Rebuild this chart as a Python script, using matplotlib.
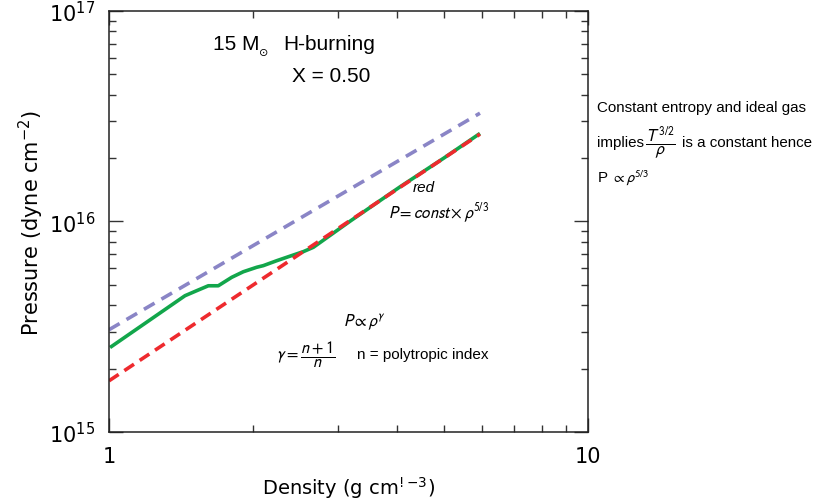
import numpy as np
import matplotlib
matplotlib.use("Agg")
import matplotlib.pyplot as plt
from matplotlib.ticker import LogLocator, NullFormatter, FixedLocator, FixedFormatter

# data (density in g cm^-3, pressure in dyne cm^-2)
rho_model = [1.005, 1.441, 1.524, 1.612, 1.691, 1.804, 1.907, 2.034, 2.10,
             2.239, 2.426, 2.545, 2.671, 3.2, 4.05, 5.0, 5.95]
p_model = [2.52e15, 4.44e15, 4.69e15, 4.95e15, 4.95e15, 5.43e15, 5.77e15,
           6.06e15, 6.17e15, 6.51e15, 6.93e15, 7.19e15, 7.54e15, 1.01e16,
           1.46e16, 2.0e16, 2.62e16]

rho_red = [1.0, 5.95]
p_red = [1.75e15, 2.60e16]

rho_blue = [1.0, 5.95]
p_blue = [3.06e15, 3.27e16]

x_ticks = [1, 10]
x_ticklabels = ["1", "10"]

c_blue = "#8a85c6"
c_red = "#ee2a2e"
c_green = "#12a64b"

W, H = 836, 502

fig = plt.figure(figsize=(8.36, 5.02), dpi=100)
ax = fig.add_axes([0.1304, 0.1375, 0.5729, 0.8386])

ax.plot(rho_blue, p_blue, color=c_blue, lw=2.6, dashes=(3.4, 2.2), dash_capstyle="butt")
ax.plot(rho_model, p_model, color=c_green, lw=2.6, solid_capstyle="butt")
ax.plot(rho_red, p_red, color=c_red, lw=2.6, dashes=(3.2, 1.9), dash_capstyle="butt")

ax.set_xscale("log")
ax.set_yscale("log")
ax.set_xlim(1, 10)
ax.set_ylim(1e15, 1e17)

ax.xaxis.set_major_locator(FixedLocator(x_ticks))
ax.xaxis.set_major_formatter(FixedFormatter(x_ticklabels))
ax.xaxis.set_minor_locator(LogLocator(base=10, subs=np.arange(2, 10)))
ax.xaxis.set_minor_formatter(NullFormatter())
ax.yaxis.set_major_locator(LogLocator(base=10, numticks=5))
ax.yaxis.set_minor_locator(LogLocator(base=10, subs=np.arange(2, 10), numticks=20))
ax.yaxis.set_minor_formatter(NullFormatter())

ax.tick_params(which="both", direction="in", top=True, right=True,
               labelsize=15, color="#333333", width=1)
ax.tick_params(which="major", length=10, pad=10)
ax.tick_params(which="minor", length=5)
for s in ax.spines.values():
    s.set_linewidth(1.1)
    s.set_color("#222222")

ax.set_xlabel("Density (g cm$^{!{-}3}$)", fontsize=14, labelpad=6)
ax.set_ylabel("Pressure (dyne cm$^{-2}$)", fontsize=15, labelpad=2)

arial = "Liberation Sans"


def put(x, y, s, **kw):
    fig.text(x / W, 1 - y / H, s, **kw)


put(213, 44, "15 M", fontsize=15, family=arial, va="center")
put(258, 53, r"$\odot$", fontsize=8, va="center")
put(283, 44, "H-burning", fontsize=15, family=arial, va="center")
put(292, 77, "X = 0.50", fontsize=15, family=arial, va="center")

put(413, 188, "red", fontsize=11, family=arial, style="italic", ha="left", va="center")
put(388, 213, r"$P = const \times \rho^{5/3}$", fontsize=12,
    ha="left", va="center", math_fontfamily="stixsans")
put(343, 322, r"$P \propto \rho^{\gamma}$", fontsize=12,
    ha="left", va="center", math_fontfamily="stixsans")
put(276, 355, r"$\gamma = \dfrac{n+1}{n}$", fontsize=12,
    ha="left", va="center", math_fontfamily="stixsans")
put(357, 355, "n = polytropic index", fontsize=11,
    family=arial, ha="left", va="center")

put(597, 108, "Constant entropy and ideal gas", fontsize=10.9,
    family=arial, ha="left", va="center")
put(597, 143, "implies", fontsize=10.9, family=arial, ha="left", va="center")
put(645, 143, r"$\dfrac{T^{3/2}}{\rho}$", fontsize=12,
    ha="left", va="center", math_fontfamily="stixsans")
put(682, 143, "is a constant hence", fontsize=10.9, family=arial, ha="left", va="center")
put(597, 178, r"P $\propto \rho^{5/3}$", fontsize=10.9,
    family=arial, ha="left", va="center", math_fontfamily="stixsans")

fig.savefig("out.png", dpi=100)
